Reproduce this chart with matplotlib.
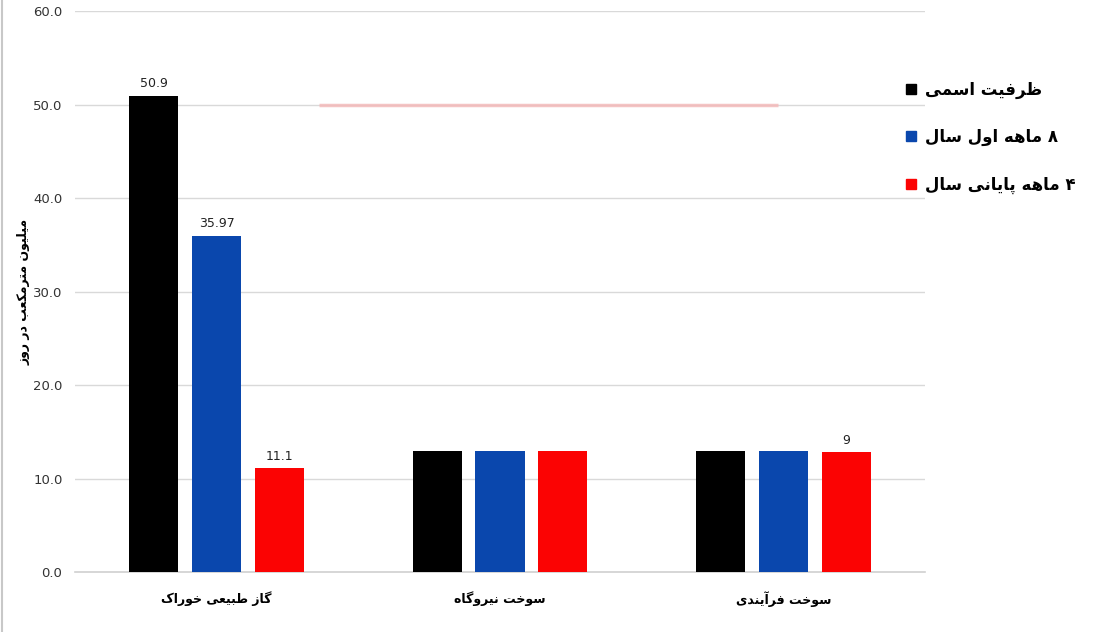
import numpy as np
import matplotlib.pyplot as plt
from matplotlib.lines import Line2D

# simple persian shaping (presentation forms), matplotlib has no bidi
FORMS = {
    'ا': (0xFE8D, 0xFE8E, None, None), 'آ': (0xFE81, 0xFE82, None, None),
    'ب': (0xFE8F, 0xFE90, 0xFE91, 0xFE92), 'پ': (0xFB56, 0xFB57, 0xFB58, 0xFB59),
    'ت': (0xFE95, 0xFE96, 0xFE97, 0xFE98), 'ث': (0xFE99, 0xFE9A, 0xFE9B, 0xFE9C),
    'ج': (0xFE9D, 0xFE9E, 0xFE9F, 0xFEA0), 'چ': (0xFB7A, 0xFB7B, 0xFB7C, 0xFB7D),
    'ح': (0xFEA1, 0xFEA2, 0xFEA3, 0xFEA4), 'خ': (0xFEA5, 0xFEA6, 0xFEA7, 0xFEA8),
    'د': (0xFEA9, 0xFEAA, None, None), 'ذ': (0xFEAB, 0xFEAC, None, None),
    'ر': (0xFEAD, 0xFEAE, None, None), 'ز': (0xFEAF, 0xFEB0, None, None),
    'ژ': (0xFB8A, 0xFB8B, None, None),
    'س': (0xFEB1, 0xFEB2, 0xFEB3, 0xFEB4), 'ش': (0xFEB5, 0xFEB6, 0xFEB7, 0xFEB8),
    'ص': (0xFEB9, 0xFEBA, 0xFEBB, 0xFEBC), 'ض': (0xFEBD, 0xFEBE, 0xFEBF, 0xFEC0),
    'ط': (0xFEC1, 0xFEC2, 0xFEC3, 0xFEC4), 'ظ': (0xFEC5, 0xFEC6, 0xFEC7, 0xFEC8),
    'ع': (0xFEC9, 0xFECA, 0xFECB, 0xFECC), 'غ': (0xFECD, 0xFECE, 0xFECF, 0xFED0),
    'ف': (0xFED1, 0xFED2, 0xFED3, 0xFED4), 'ق': (0xFED5, 0xFED6, 0xFED7, 0xFED8),
    'ک': (0xFB8E, 0xFB8F, 0xFB90, 0xFB91), 'گ': (0xFB92, 0xFB93, 0xFB94, 0xFB95),
    'ل': (0xFEDD, 0xFEDE, 0xFEDF, 0xFEE0), 'م': (0xFEE1, 0xFEE2, 0xFEE3, 0xFEE4),
    'ن': (0xFEE5, 0xFEE6, 0xFEE7, 0xFEE8), 'ه': (0xFEE9, 0xFEEA, 0xFEEB, 0xFEEC),
    'و': (0xFEED, 0xFEEE, None, None), 'ی': (0xFBFC, 0xFBFD, 0xFBFE, 0xFBFF),
}


def fa(s):
    out = []
    for i, c in enumerate(s):
        if c not in FORMS:
            out.append(c)
            continue
        iso, fin, ini, med = FORMS[c]
        prev = s[i - 1] if i > 0 else ''
        nxt = s[i + 1] if i + 1 < len(s) else ''
        join_prev = prev in FORMS and FORMS[prev][2] is not None
        join_next = nxt in FORMS and ini is not None
        if join_prev and join_next:
            g = med
        elif join_prev:
            g = fin
        elif join_next:
            g = ini
        else:
            g = iso
        out.append(chr(g))
    return ''.join(out[::-1])


categories = ['گاز طبیعی خوراک', 'سوخت نیروگاه', 'سوخت فرآیندی']
series = ['ظرفیت اسمی', '۸ ماهه اول سال', '۴ ماهه پایانی سال']
values = [
    [50.9, 12.9, 12.9],
    [35.97, 12.9, 12.9],
    [11.1, 12.9, 12.8],
]
labels = [
    ['50.9', '', ''],
    ['35.97', '', ''],
    ['11.1', '', '9'],
]
colors = ['#000000', '#0a47ad', '#fb0303']
yticks = [0, 10, 20, 30, 40, 50, 60]

plt.rcParams['font.family'] = ['DejaVu Sans']

fig = plt.figure(figsize=(10.94, 6.32), dpi=100)
ax = fig.add_axes([75 / 1094, 1 - 572 / 632, 850 / 1094, 561 / 632])

x = np.arange(len(categories))
w = 0.173
off = 0.222
for i in range(len(series)):
    bars = ax.bar(x + (i - 1) * off, values[i], w, color=colors[i], zorder=3)
    for b, lab in zip(bars, labels[i]):
        if lab:
            ax.text(b.get_x() + b.get_width() / 2, b.get_height() + 0.6, lab,
                    ha='center', va='bottom', fontsize=9, color='#222222', zorder=4)

# faint pink line at 50
ax.hlines(50, 0.36, 1.98, color='#f4b8b8', lw=2.5, alpha=0.8, zorder=2)

ax.set_xlim(-0.5, 2.5)
ax.set_ylim(0, 60)
ax.set_yticks(yticks)
ax.set_yticklabels(['%.1f' % t for t in yticks], fontsize=9.5, color='#333333')
ax.set_xticks(x)
ax.set_xticklabels([fa(c) for c in categories], fontsize=9, fontweight='bold')
ax.tick_params(length=0, pad=9)
ax.tick_params(axis='x', pad=14)
ax.grid(axis='y', color='#d9d9d9', lw=1, zorder=0)
ax.axhline(0, color='#d0d0d0', lw=1.2, zorder=1, clip_on=False)
for s in ax.spines.values():
    s.set_visible(False)

ax.set_ylabel(fa('میلیون مترمکعب در روز'), fontsize=9, fontweight='bold', labelpad=2)

handles = [Line2D([], [], ls='none', marker='s', markersize=7, color=c) for c in colors]
leg = fig.legend(handles, [fa(s) for s in series], loc='upper left',
                 bbox_to_anchor=(888 / 1094, 1 - 66 / 632), frameon=False,
                 prop={'size': 12, 'weight': 'bold'}, handletextpad=0.3,
                 labelspacing=1.75, handlelength=1.0)

fig.add_artist(Line2D([2 / 1094, 2 / 1094], [0, 1], color='#c8c8c8', lw=1.5))

plt.savefig('out.png', dpi=100)
